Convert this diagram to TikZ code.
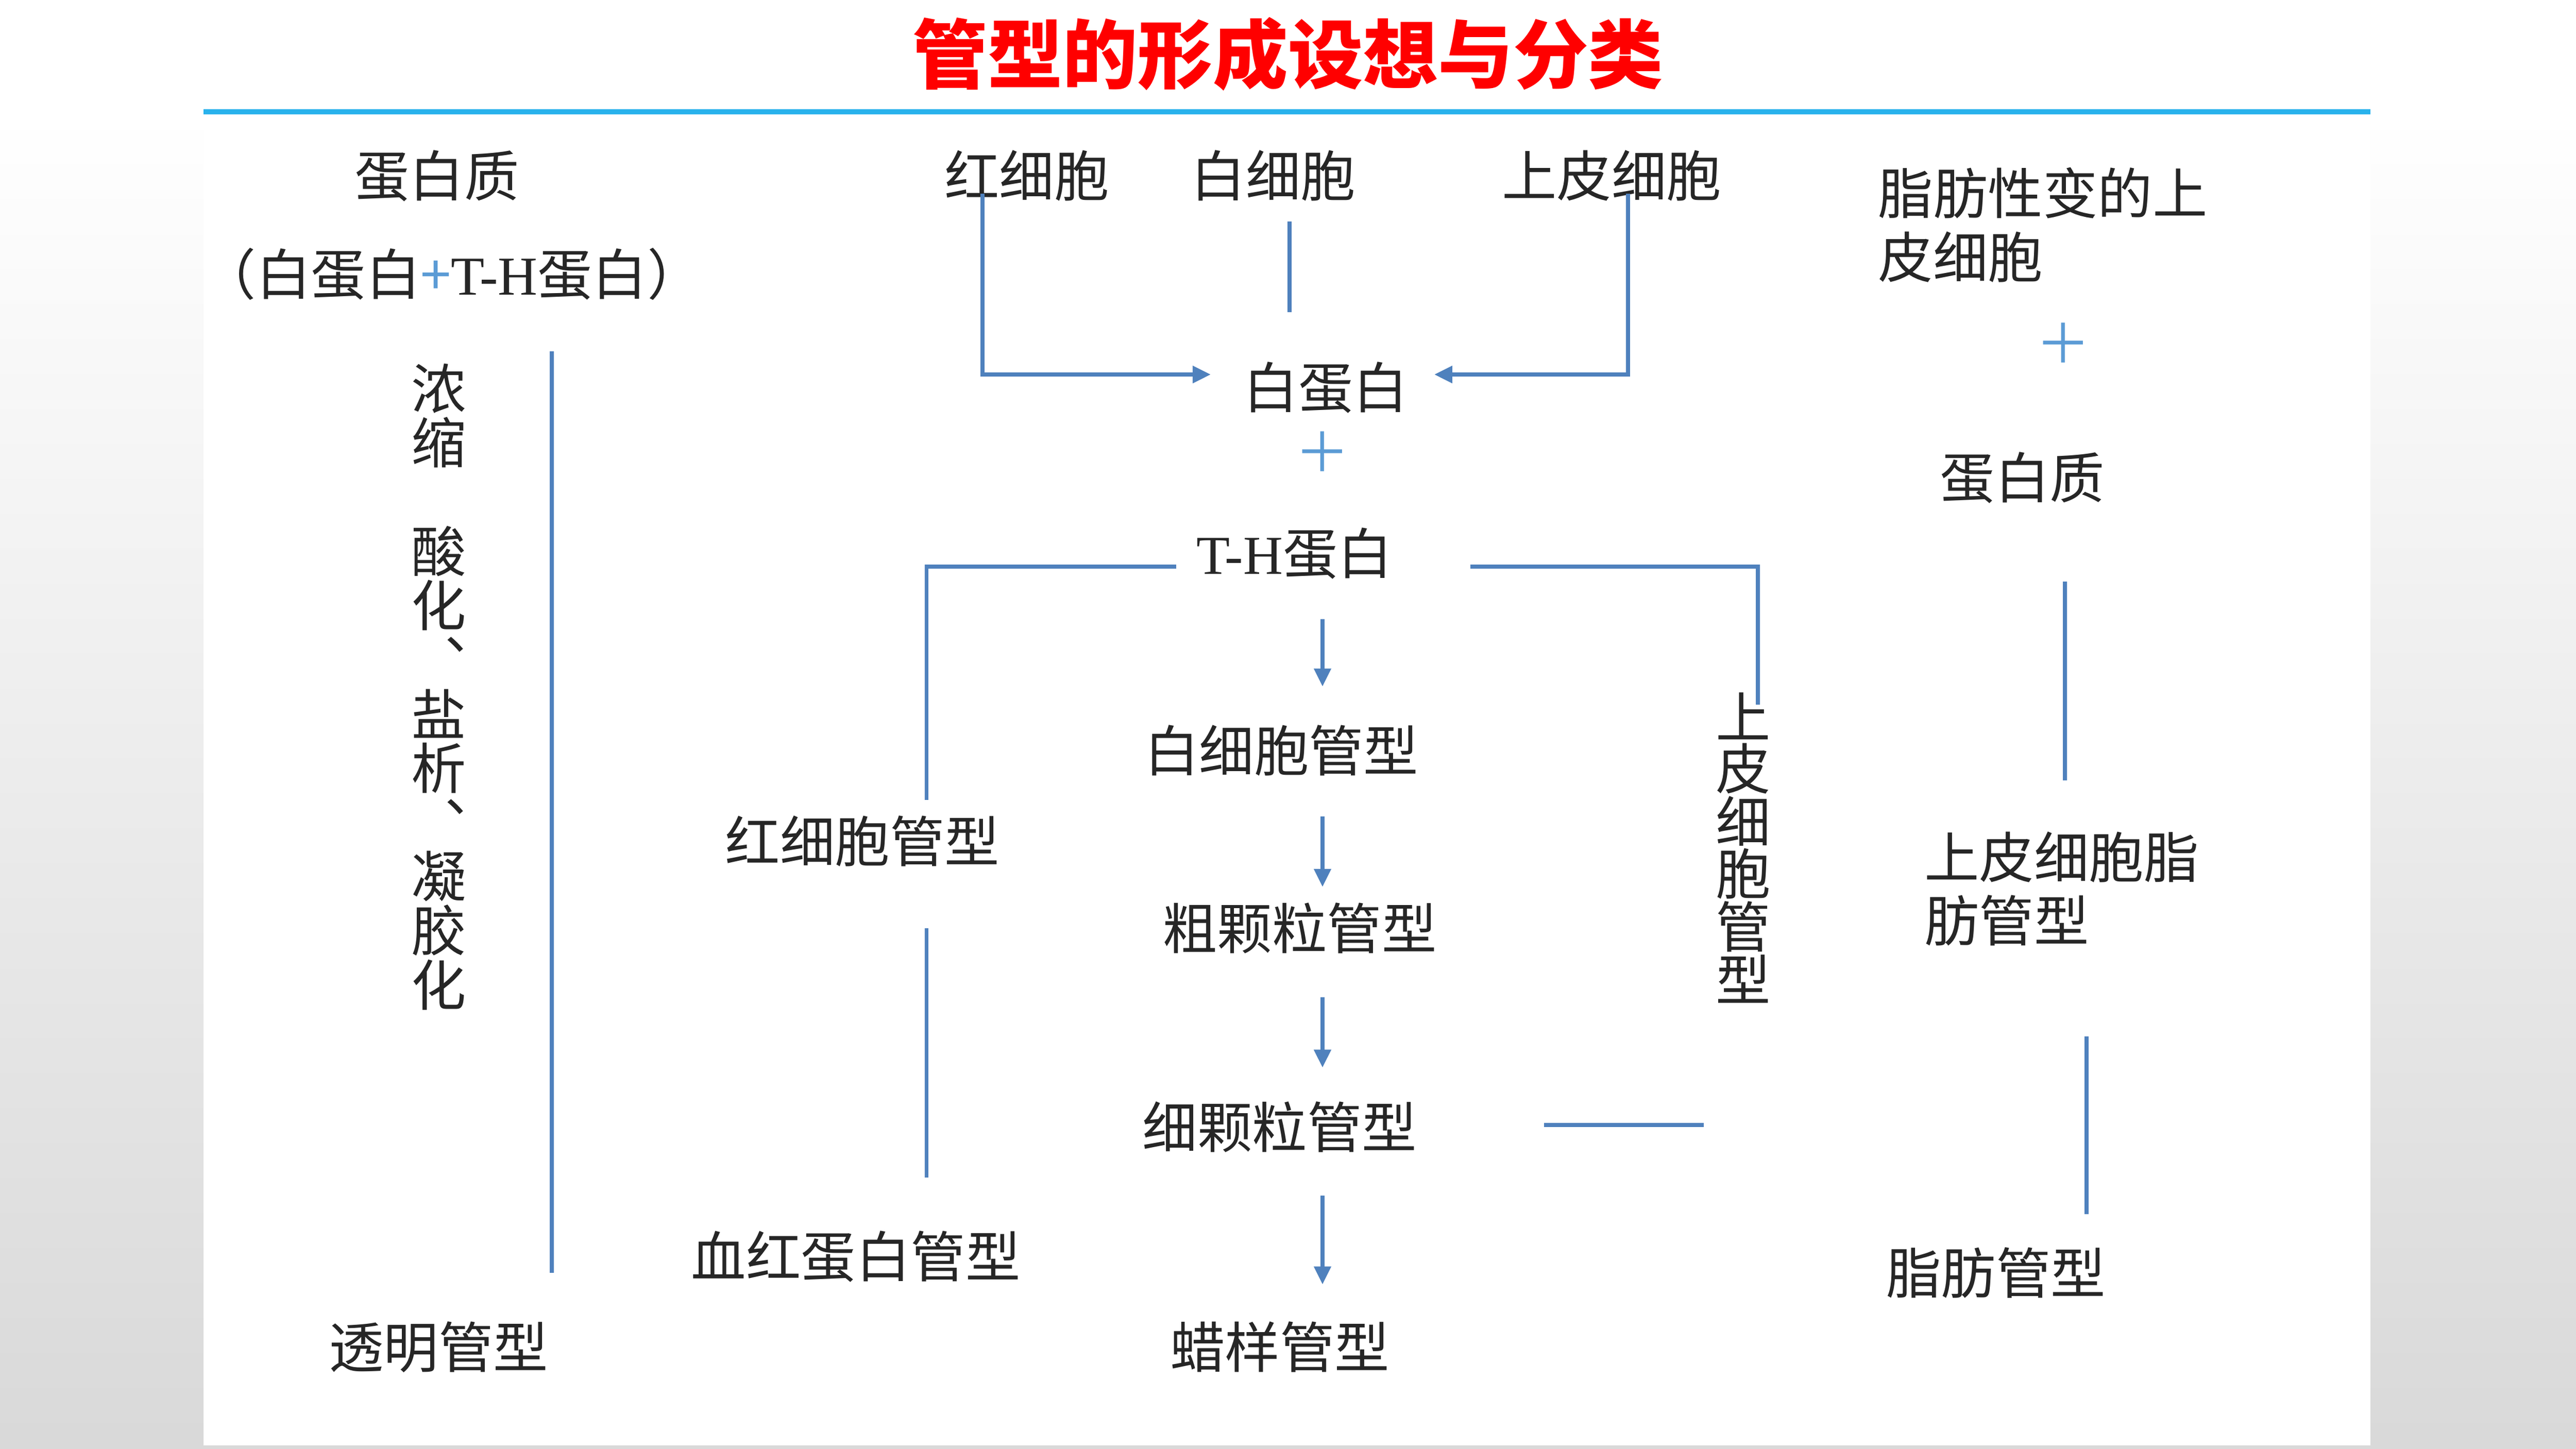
\documentclass[tikz,border=0pt]{standalone}
\usepackage{fontspec}
\setmainfont{Noto Sans CJK SC}
\newfontfamily\latinfont{Liberation Serif}
\usetikzlibrary{arrows.meta}
\usetikzlibrary{calc}
\definecolor{linkblue}{RGB}{79,129,189}
\definecolor{plusblue}{RGB}{91,155,213}
\definecolor{ruleblue}{RGB}{41,178,236}
\definecolor{inkgray}{RGB}{38,38,38}

\begin{document}
\begin{tikzpicture}[x=0.2mm,y=-0.2mm,>={Triangle[length=2.2mm,width=2mm]},
	txt/.style={inner sep=0pt, text=inkgray, font=\fontsize{19}{22}\selectfont},
	ltxt/.style={txt, align=left, anchor=west},
	plus/.style={inner sep=0pt, text=plusblue, font=\fontsize{19}{22}\selectfont},
	link/.style={linkblue, line width=0.5mm}]
				% draw background and panel
				\useasboundingbox (0,0) rectangle (1568,882);
				\fill[white] (0,0) rectangle (1568,882);
				\shade[top color=white, bottom color=black!15] (0,68) rectangle (1568,882);
				\fill[white] (124,68) rectangle (1443,880);
				\draw[ruleblue, line width=0.6mm] (124,68) -- (1443,68);
				
				% draw title
				\node[inner sep=0pt, text=red, font=\fontsize{26}{30}\selectfont\bfseries] (title) at (784,33) {管型的形成设想与分类};
				
				% draw left column
				\node[txt] (protL) at (266,107) {蛋白质};
				\node[txt] (mixL) at (275,167) {（白蛋白{\color{plusblue}+}{\latinfont T-H}蛋白）};
				\foreach \ch/\k in {浓/1,缩/2,酸/4,化/5,︑/6,盐/7,析/8,︑/9,凝/10,胶/11,化/12}
					\node[txt] (proc-\k) at (267,{203.5+33*\k}) {\ch};
				\node[txt] (glass) at (267,820) {透明管型};
				
				% draw middle column
				\node[txt] (rbc) at (625,107) {红细胞};
				\node[txt] (wbc) at (775,107) {白细胞};
				\node[txt] (epi) at (981,107) {上皮细胞};
				\node[txt] (alb) at (807,236) {白蛋白};
				\node[plus] (plusM) at (805,275) {＋};
				\node[txt] (th) at (788,337) {{\latinfont T-H}蛋白};
				\node[txt] (wbccast) at (780,457) {白细胞管型};
				\node[txt] (coarse) at (791,565) {粗颗粒管型};
				\node[txt] (fine) at (779,686) {细颗粒管型};
				\node[txt] (waxy) at (779,820) {蜡样管型};
				\node[txt] (rbccast) at (525,512) {红细胞管型};
				\node[txt] (hbcast) at (521,765) {血红蛋白管型};
				\foreach \ch [count=\k] in {上,皮,细,胞,管,型}
					\node[txt] (epicast-\k) at (1061,{404+32*\k}) {\ch};
				
				% draw right column
				\node[ltxt] (fatepi) at (1143,137) {脂肪性变的上\\皮细胞};
				\node[plus] (plusR) at (1256,209) {＋};
				\node[txt] (protR) at (1231,291) {蛋白质};
				\node[ltxt] (epifat) at (1171,541) {上皮细胞脂\\肪管型};
				\node[txt] (fat) at (1215,775) {脂肪管型};
				
				% draw left line
				\draw[link] ($(mixL)+(61,47)$) -- ($(glass)+(69,-45)$);
				
				% draw cells to albumin
				\draw[link,->] ($(rbc)+(-27,11)$) |- ($(alb)+(-70,-8)$);
				\draw[link] ($(wbc)+(10,28)$) -- ($(alb)+(-22,-46)$);
				\draw[link,->] ($(epi)+(10,11)$) |- ($(alb)+(66,-8)$);
				
				% draw branches of T-H
				\draw[link] ($(th)+(-72,8)$) -| ($(rbccast)+(39,-25)$);
				\draw[link] ($(th)+(107,8)$) -| ($(epicast-1)+(9,-7)$);
				\draw[link,->] ($(th)+(17,40)$) -- ($(wbccast)+(25,-39)$);
				\draw[link,->] ($(wbccast)+(25,40)$) -- ($(coarse)+(14,-25)$);
				\draw[link,->] ($(coarse)+(14,42)$) -- ($(fine)+(26,-36)$);
				\draw[link,->] ($(fine)+(26,42)$) -- ($(waxy)+(26,-38)$);
				\draw[link] ($(fine)+(161,-1)$) -- ($(epicast-6)+(-24,89)$);
				\draw[link] ($(rbccast)+(39,53)$) -- ($(hbcast)+(43,-48)$);
				
				% draw right lines
				\draw[link] ($(protR)+(26,63)$) -- ($(epifat.west)+(86,-66)$);
				\draw[link] ($(epifat.west)+(99,90)$) -- ($(fat)+(55,-36)$);
			\end{tikzpicture}
\end{document}
